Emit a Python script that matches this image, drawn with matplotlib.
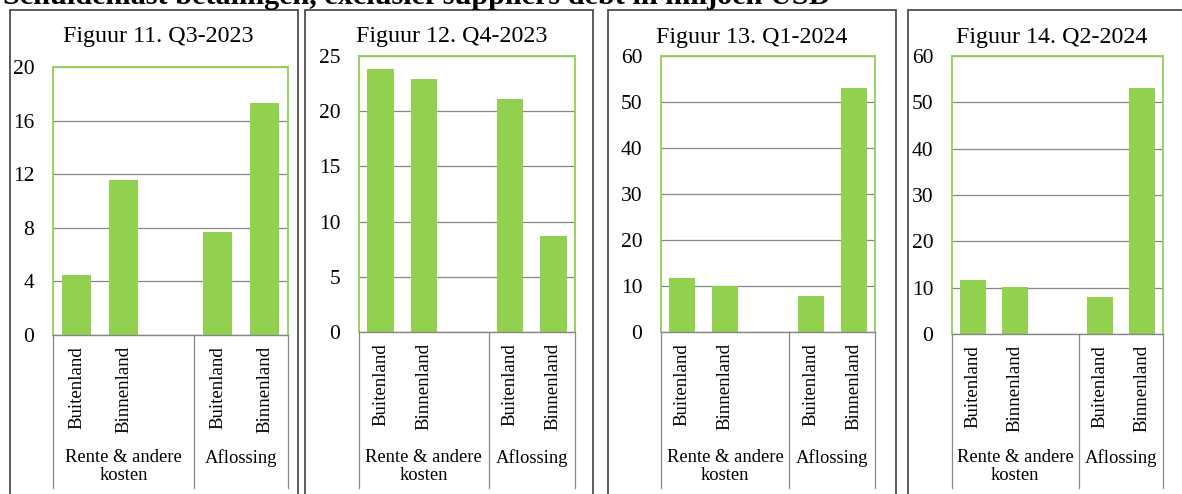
import numpy as np
import matplotlib.pyplot as plt
from matplotlib.patches import Rectangle
from matplotlib.transforms import blended_transform_factory

plt.rcParams['font.family'] = ['Liberation Serif', 'DejaVu Serif']

titel = "Schuldenlast betalingen, exclusief suppliers debt in miljoen USD"
figuren = ["Figuur 11. Q3-2023", "Figuur 12. Q4-2023",
           "Figuur 13. Q1-2024", "Figuur 14. Q2-2024"]
categorieen = ["Buitenland", "Binnenland", "", "Buitenland", "Binnenland"]
groepen = ["Rente & andere\nkosten", "Aflossing"]
groep_grootte = [3, 2]

# rente buitenland, rente binnenland, aflossing buitenland, aflossing binnenland
q3_2023 = [4.5, 11.6, 7.7, 17.3]
q4_2023 = [23.8, 22.9, 21.1, 8.7]
q1_2024 = [11.7, 10.1, 7.9, 53.1]
q2_2024 = [11.7, 10.1, 7.9, 53.1]
reeksen = [q3_2023, q4_2023, q1_2024, q2_2024]
ymax = [20, 25, 60, 60]
ystap = [4, 5, 10, 10]

groen = '#92d050'
grijs = '#878787'

W, H = 1182, 494
fig = plt.figure(figsize=(W / 100, H / 100), dpi=100)

# layout in pixels: plot area (links, rechts, boven, nul-lijn), kader, titelpositie
plots = [(53, 288, 67, 335), (359, 575, 56, 332), (661, 875, 56, 332), (952, 1163, 56, 334)]
kaders = [(10, 298), (305, 593), (608, 896), (908, 1195)]
titels = [(158, 42), (452, 42), (752, 43), (1052, 43)]

for i in range(4):
    l, r, t, b = plots[i]
    ax = fig.add_axes([l / W, 1 - b / H, (r - l) / W, (b - t) / H])

    pos = [k for k, c in enumerate(categorieen) if c]
    ax.bar(pos, reeksen[i], width=0.61, color=groen, zorder=3)

    ax.set_xlim(-0.5, len(categorieen) - 0.5)
    ax.set_ylim(0, ymax[i])
    ax.set_yticks(np.arange(0, ymax[i] + 1, ystap[i]))
    ax.tick_params(axis='y', length=0, pad=13.5, labelsize=15.5)
    ax.set_xticks(range(len(categorieen)))
    ax.set_xticklabels(categorieen, rotation=90, fontsize=13.6)
    ax.tick_params(axis='x', length=0, pad=8)
    ax.yaxis.grid(True, color=grijs, lw=0.9, zorder=1)

    for s in ['top', 'left', 'right']:
        ax.spines[s].set_color(groen)
        ax.spines[s].set_linewidth(1.3)
    ax.spines['bottom'].set_color(grijs)
    ax.spines['bottom'].set_linewidth(1.0)
    ax.spines['bottom'].set_zorder(4)

    # groepslabels en scheidingslijnen onder de as
    tr = blended_transform_factory(ax.transData, ax.transAxes)
    y_eind = -(488 - b) / (b - t)
    start = -0.5
    ax.plot([start, start], [0, y_eind], color=grijs, lw=0.9, transform=tr, clip_on=False)
    for g, n in zip(groepen, groep_grootte):
        midden = start + n / 2
        ax.annotate(g, xy=(midden, 0), xycoords=tr, xytext=(0, -(449 - b) * 0.72),
                    textcoords='offset points', ha='center', va='top',
                    fontsize=13.4, linespacing=1.05)
        start += n
        ax.plot([start, start], [0, y_eind], color=grijs, lw=0.9, transform=tr, clip_on=False)

    # kader om elke figuur
    k0, k1 = kaders[i]
    fig.patches.append(Rectangle((k0 / W, -0.2), (k1 - k0) / W, 1.2 - 10 / H,
                                 transform=fig.transFigure, fill=False,
                                 edgecolor='#404040', lw=1.2))
    tx, ty = titels[i]
    fig.text(tx / W, 1 - ty / H, figuren[i], ha='center', va='baseline', fontsize=17.3)

fig.text(3 / W, 1 - 3.5 / H, titel, ha='left', va='baseline', fontsize=21.8, fontweight='bold')

fig.savefig('out.png', dpi=100)
